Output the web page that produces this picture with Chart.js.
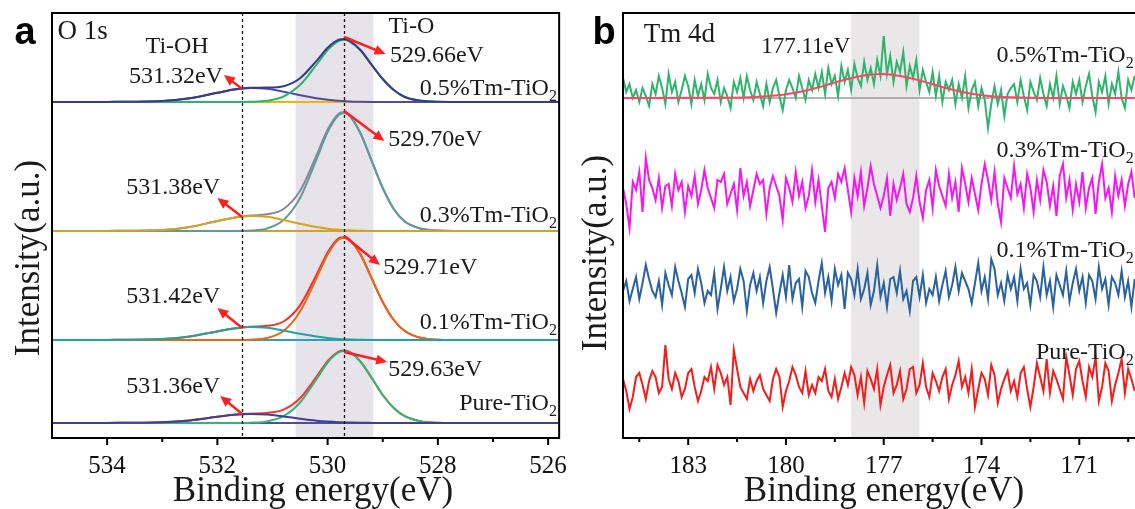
<!DOCTYPE html>
<html lang="en">
<head>
<meta charset="UTF-8">
<title>XPS O 1s and Tm 4d</title>
<script src="https://cdn.jsdelivr.net/npm/chart.js"></script>
<style>
  body { margin: 0; background: #fff; }
  .panel { position: absolute; top: 0; }
  .panel canvas { display: block; }
  #panelA { left: 0; }
  #panelB { left: 580px; }
</style>
</head>
<body>
<div class="panel" id="panelA"><canvas id="chartA" width="580" height="509"></canvas></div>
<div class="panel" id="panelB"><canvas id="chartB" width="555" height="509"></canvas></div>
<script>
// ---------- panel a : O 1s (heights, arbitrary units) ----------
const oBE = [535, 534, 533, 532.5, 532, 531.7, 531.4, 531.1, 530.8, 530.5, 530.2, 530.0, 529.8,
             529.7, 529.6, 529.4, 529.2, 529.0, 528.8, 528.6, 528.3, 528.0, 527.5, 527, 526, 525.8];
const oSamples = ['0.5%Tm-TiO2', '0.3%Tm-TiO2', '0.1%Tm-TiO2', 'Pure-TiO2'];
const oBase = [336, 207, 98, 15];

const tiO_05  = [0,0,0,0,0,0,0.2,1.2,5.5,17,37.5,52,61,62,60.5,51.5,37,23,12,5,1.2,0.2,0,0,0,0];
const tiOH_05 = [0,0.1,1,3.8,9.2,12.4,14,13.2,10.3,6.8,3.7,2.2,1.2,0.9,0.6,0.3,0.1,0,0,0,0,0,0,0,0,0];
const tiO_03  = [0,0,0,0,0,0,0.4,2.5,11,33,72,99,116,118,115,97,70,43,22,9.5,2.2,0.4,0,0,0,0];
const tiOH_03 = [0,0.1,1,4,10,13.3,15,14.2,11,7.2,3.9,2.3,1.3,0.9,0.7,0.3,0.1,0,0,0,0,0,0,0,0,0];
const tiO_01  = [0,0,0,0,0,0,0.3,2,9,28.5,62,85.5,100.5,102,100,85,61.5,38,20,9,2,0.3,0,0,0,0];
const tiOH_01 = [0,0.1,0.9,3.5,8.6,11.5,13,12.2,9.5,6.2,3.4,2,1.1,0.8,0.6,0.3,0.1,0,0,0,0,0,0,0,0,0];
const tiO_pu  = [0,0,0,0,0,0,0.3,1.6,6.8,20.5,44,60.5,70.5,72,70.8,61,45,28,15,6.8,1.6,0.3,0,0,0,0];
const tiOH_pu = [0,0.1,0.7,2.5,6.2,8.2,9,8.5,6.6,4.3,2.3,1.4,0.8,0.6,0.4,0.2,0.1,0,0,0,0,0,0,0,0,0];
const oTiO = [tiO_05, tiO_03, tiO_01, tiO_pu];
const oTiOH = [tiOH_05, tiOH_03, tiOH_01, tiOH_pu];

const oMajor = [534, 532, 530, 528, 526];
const oMinor = [533, 531, 529, 527];
const oDashed = [531.55, 529.70];
const oBand = [530.58, 529.17];

// ---------- panel b : Tm 4d ----------
const tmStart = 185.0, tmStep = 0.1;   // sampling grid of the spectra
const tmBase = [340, 246, 151, 55];
const tm05 = [20,6,14,0,8,-4,10,2,-8,14,4,22,10,-6,24,6,16,-4,8,22,
  12,-6,18,2,14,-2,24,10,4,18,-4,10,2,-10,16,6,20,0,22,8,
  -2,16,4,-8,14,-4,10,18,2,-12,8,18,10,0,22,10,-2,18,8,24,
  10,26,4,30,14,22,2,32,16,28,8,34,20,12,36,18,30,14,38,22,
  62,24,42,16,36,26,46,12,32,20,38,8,28,16,6,26,2,22,-4,16,
  8,18,-6,14,0,22,-10,8,16,-8,10,-2,-30,-6,12,-6,8,-18,4,10,
  14,-4,18,2,-12,16,6,-2,20,4,-8,14,0,22,-6,12,2,-10,16,4,
  18,-4,12,24,2,-14,16,6,22,-6,14,4,26,0,-10,18,8,22];
const tm03 = [4,-12,-36,10,2,20,-20,34,12,4,-8,14,-16,6,8,-14,18,2,10,-20,
  6,-4,16,-12,2,22,4,-6,-16,12,10,18,-12,-2,8,-18,24,-4,10,-14,
  2,18,8,12,-22,4,16,6,-4,-28,14,4,-10,20,-4,10,-16,-4,22,-10,
  12,-14,-40,4,10,-6,18,10,24,2,-20,14,-4,20,-14,4,26,8,-4,-16,
  -4,14,-24,8,-8,4,18,-12,-20,-6,16,-10,-26,2,12,-16,22,6,-4,-14,
  18,-6,10,-20,24,8,-10,14,-2,-18,8,28,12,-8,20,-12,-30,14,4,-6,
  26,-2,8,-16,18,4,-20,12,-8,22,10,-14,6,-24,16,28,-6,12,-18,8,
  -10,20,-16,4,14,-22,10,28,-6,4,-20,16,-4,12,-14,8,20,-6];
const tm01 = [-4,6,-14,-2,10,-12,4,22,8,-4,-10,6,-18,14,2,-8,20,6,-6,-20,
  8,12,-6,18,4,-16,-4,-8,14,-22,-2,20,-4,10,-14,-2,18,6,-24,2,
  14,-4,10,-16,6,20,-2,-26,-6,12,-10,22,-12,4,8,-20,16,10,-6,-16,
  6,24,-6,10,-14,18,2,12,-22,14,8,-8,18,-12,-2,14,-18,-4,22,-10,
  4,-20,8,10,-6,16,-12,-4,-24,6,10,-10,12,-16,-2,-8,10,-14,2,16,
  -10,2,20,-4,14,6,-2,-16,4,24,-4,10,-12,28,18,-8,4,-14,12,-2,
  10,-14,18,-2,4,-18,12,6,-10,20,-8,6,-20,12,2,-8,16,-14,4,18,
  -4,10,-16,12,6,-12,20,-2,8,-18,10,4,-8,16,-10,6,-20,8];
const tmPure = [4,-8,-26,-14,6,10,-2,-16,2,12,6,-10,-4,38,4,-6,10,2,-14,-6,
  10,14,-4,-18,-8,6,2,16,-6,18,10,-2,6,-22,33,14,-4,-10,-16,4,
  -8,2,8,-6,-12,-18,4,14,6,-24,-8,2,16,8,-4,-10,12,-12,-2,-10,
  6,2,14,-8,-14,4,-16,-4,10,-2,16,8,-12,6,-20,12,4,-6,14,-22,
  -4,8,18,-10,-2,12,-16,-6,14,16,-10,-2,20,-4,-14,10,2,-8,6,14,
  -16,-2,8,22,-4,6,-10,14,-24,-6,10,4,-12,18,8,-20,-6,4,12,-8,
  2,-14,10,16,-6,-24,-4,20,6,-8,24,-10,12,4,-6,-16,26,8,-12,14,
  22,2,-14,16,6,26,-18,-4,20,12,-18,-2,10,24,-10,14,4,-8];
const tmTraces = [tm05, tm03, tm01, tmPure];
const tmFitBE = [185, 182, 181.1, 180.6, 180.1, 179.6, 179.1, 178.6, 178.1, 177.6, 177.1,
                 176.6, 176.1, 175.6, 175.1, 174.6, 174.1, 173.6, 173.1, 172, 169.3];
const tmFit = [0, 0.2, 0.8, 1.7, 3.3, 6, 9.8, 14.5, 19, 22.5, 24, 22.6, 19.3, 14.7, 10, 6.1, 3.3, 1.6, 0.7, 0.1, 0];

const tmMajor = [183, 180, 177, 174, 171];
const tmMinor = [184.5, 181.5, 178.5, 175.5, 172.5, 169.5];
const tmBand = [178.0, 175.9];

// ---------- styles ----------
const SERIF = '"Liberation Serif", "Times New Roman", serif';
const oColor = [
  { base: '#f4b400', tiOH: '#4f4c9e', tiO: '#27b56f', env: '#3b3a8a' },
  { base: '#d9a21c', tiOH: '#d9a21c', tiO: '#5e9b9c', env: '#8d8498' },
  { base: '#2f9fb6', tiOH: '#1fa5a0', tiO: '#e06a16', env: '#ff2b2b' },
  { base: '#514ca0', tiOH: '#3f3f96', tiO: '#2cb877', env: '#ff3030' }
];
const oPaint = [
  ['base', 'tiOH', 'tiO', 'env'],
  ['base', 'env', 'tiO', 'tiOH'],
  ['base', 'env', 'tiO', 'tiOH'],
  ['base', 'env', 'tiO', 'tiOH']
];
const tmColor = ['#2fb46c', '#f516f0', '#2862a0', '#f51c1c'];

// [text, subscript, x (eV), y (a.u.), align, font size]
const oLabels = [
  ['O 1s', '', 534.9, 406, 'left', 27],
  ['Ti-OH', '', 532.73, 391, 'center', 24],
  ['531.32eV', '', 531.9, 361, 'right', 24],
  ['Ti-O', '', 528.48, 411, 'center', 24],
  ['529.66eV', '', 528.87, 382, 'left', 24],
  ['0.5%Tm-TiO', '2', 525.84, 349, 'right', 24],
  ['529.70eV', '', 528.9, 298, 'left', 24],
  ['531.38eV', '', 531.95, 250, 'right', 24],
  ['0.3%Tm-TiO', '2', 525.84, 222, 'right', 24],
  ['529.71eV', '', 528.99, 170, 'left', 24],
  ['531.42eV', '', 531.95, 141, 'right', 24],
  ['0.1%Tm-TiO', '2', 525.84, 115, 'right', 24],
  ['529.63eV', '', 528.9, 68, 'left', 24],
  ['531.36eV', '', 531.95, 51, 'right', 24],
  ['Pure-TiO', '2', 525.84, 34, 'right', 24]
];
// [from eV, from y, to eV, to y]
const oArrows = [
  [529.70, 401, 528.95, 384], [531.55, 349, 531.88, 363],
  [529.70, 327, 528.97, 297], [531.55, 221, 532.0, 240],
  [529.70, 202, 529.05, 173], [531.55, 110, 532.0, 130],
  [529.70, 86, 528.92, 76],   [531.55, 24, 531.95, 42]
];
const tmLabels = [
  ['Tm 4d', '', 184.36, 403, 'left', 27],
  ['177.11eV', '', 179.39, 391, 'center', 23],
  ['0.5%Tm-TiO', '2', 169.33, 382, 'right', 24],
  ['0.3%Tm-TiO', '2', 169.33, 287, 'right', 24],
  ['0.1%Tm-TiO', '2', 169.33, 187, 'right', 24],
  ['Pure-TiO', '2', 169.33, 85, 'right', 24]
];

// ---------- drawing helpers ----------
function drawLabel(ctx, x, y, t) {
  const [main, sub, , , align, size] = t;
  const subSize = Math.round(size * 0.68);
  ctx.font = size + 'px ' + SERIF;
  const wm = ctx.measureText(main).width;
  ctx.font = subSize + 'px ' + SERIF;
  const ws = sub ? ctx.measureText(sub).width : 0;
  const w = wm + ws;
  const x0 = align === 'left' ? x : align === 'right' ? x - w : x - w / 2;
  ctx.textAlign = 'left';
  ctx.textBaseline = 'middle';
  ctx.fillStyle = '#1a1a1a';
  ctx.font = size + 'px ' + SERIF;
  ctx.fillText(main, x0, y);
  if (sub) {
    ctx.font = subSize + 'px ' + SERIF;
    ctx.fillText(sub, x0 + wm, y + size * 0.32);
  }
}

function drawArrow(ctx, x0, y0, x1, y1) {
  const ang = Math.atan2(y1 - y0, x1 - x0), L = 11, W = 5;
  const c = Math.cos(ang), s = Math.sin(ang);
  ctx.strokeStyle = '#ff1f1f';
  ctx.fillStyle = '#ff1f1f';
  ctx.lineWidth = 2.5;
  ctx.beginPath();
  ctx.moveTo(x0, y0);
  ctx.lineTo(x1 - L * 0.8 * c, y1 - L * 0.8 * s);
  ctx.stroke();
  ctx.beginPath();
  ctx.moveTo(x1, y1);
  ctx.lineTo(x1 - L * c + W * s, y1 - L * s - W * c);
  ctx.lineTo(x1 - L * c - W * s, y1 - L * s + W * c);
  ctx.closePath();
  ctx.fill();
}

function decor(o) {
  return {
    id: 'decor',
    beforeDatasetsDraw(chart) {
      const { ctx, chartArea: a, scales: { x } } = chart;
      const x1 = x.getPixelForValue(o.band[0]), x2 = x.getPixelForValue(o.band[1]);
      ctx.save();
      ctx.fillStyle = o.bandColor;
      ctx.fillRect(Math.min(x1, x2), a.top, Math.abs(x2 - x1), a.bottom - a.top);
      ctx.restore();
    },
    afterDatasetsDraw(chart) {
      const { ctx, chartArea: a, scales: { x, y } } = chart;
      ctx.save();
      // dashed reference lines
      ctx.strokeStyle = '#111';
      ctx.lineWidth = 1.3;
      ctx.setLineDash([3, 3]);
      (o.dashed || []).forEach(v => {
        const px = Math.round(x.getPixelForValue(v)) + 0.5;
        ctx.beginPath(); ctx.moveTo(px, a.top); ctx.lineTo(px, a.bottom); ctx.stroke();
      });
      ctx.setLineDash([]);
      // frame (panel b runs off the right edge)
      ctx.lineWidth = 2;
      ctx.strokeStyle = '#000';
      ctx.beginPath();
      if (o.rightEdge) {
        ctx.moveTo(a.right, a.top); ctx.lineTo(a.right, a.bottom);
      }
      ctx.moveTo(a.right + 1, a.top); ctx.lineTo(a.left, a.top); ctx.lineTo(a.left, a.bottom); ctx.lineTo(a.right + 1, a.bottom);
      ctx.stroke();
      // tick marks
      o.major.forEach(v => {
        const px = x.getPixelForValue(v);
        ctx.beginPath(); ctx.moveTo(px, a.bottom); ctx.lineTo(px, a.bottom + 7); ctx.stroke();
      });
      o.minor.forEach(v => {
        const px = x.getPixelForValue(v);
        ctx.beginPath(); ctx.moveTo(px, a.bottom); ctx.lineTo(px, a.bottom + 4); ctx.stroke();
      });
      // arrows and labels
      (o.arrows || []).forEach(r => drawArrow(ctx,
        x.getPixelForValue(r[0]), y.getPixelForValue(r[1]),
        x.getPixelForValue(r[2]), y.getPixelForValue(r[3])));
      o.labels.forEach(t => drawLabel(ctx, x.getPixelForValue(t[2]), y.getPixelForValue(t[3]), t));
      // panel letter
      ctx.fillStyle = '#000';
      ctx.font = 'bold 38px "Liberation Sans", Arial, sans-serif';
      ctx.textAlign = 'center';
      ctx.textBaseline = 'middle';
      ctx.fillText(o.letter, o.letterPos[0], o.letterPos[1]);
      // axis titles
      ctx.fillStyle = '#1a1a1a';
      ctx.font = '35px ' + SERIF;
      ctx.fillText('Binding energy(eV)', o.xTitle[0], o.xTitle[1]);
      ctx.translate(o.yTitle[0], o.yTitle[1]);
      ctx.rotate(-Math.PI / 2);
      ctx.fillText('Intensity(a.u.)', 0, 0);
      ctx.restore();
    }
  };
}

function xAxis(min, max, majors) {
  return {
    type: 'linear', reverse: true, min: min, max: max,
    afterBuildTicks: s => { s.ticks = majors.map(v => ({ value: v })); },
    afterFit: s => { s.height = 71; },
    grid: { display: false, drawTicks: false },
    border: { display: false },
    ticks: { font: { family: SERIF, size: 25 }, color: '#111', padding: 13, maxRotation: 0, autoSkip: false }
  };
}

function baseOptions(min, max, majors, pad) {
  return {
    responsive: false,
    devicePixelRatio: 1,
    animation: false,
    layout: { padding: pad, autoPadding: false },
    plugins: { legend: { display: false }, tooltip: { enabled: false } },
    elements: { point: { radius: 0 } },
    scales: {
      x: xAxis(min, max, majors),
      y: { display: false, min: 0, max: 425 }
    }
  };
}

// ---------- panel a datasets ----------
const layersA = [];
oSamples.forEach((name, i) => {
  const b = oBase[i];
  const series = {
    base: [{ x: oBE[0], y: b }, { x: oBE[oBE.length - 1], y: b }],
    tiOH: oBE.map((e, k) => ({ x: e, y: b + oTiOH[i][k] })),
    tiO: oBE.map((e, k) => ({ x: e, y: b + oTiO[i][k] })),
    env: oBE.map((e, k) => ({ x: e, y: b + oTiO[i][k] + oTiOH[i][k] }))
  };
  oPaint[i].forEach(key => layersA.push({
    label: name + ' ' + key,
    data: series[key],
    borderColor: oColor[i][key],
    borderWidth: 2,
    cubicInterpolationMode: 'monotone',
    fill: false
  }));
});

new Chart(document.getElementById('chartA'), {
  type: 'line',
  data: { datasets: layersA.reverse() },   // first dataset is painted last
  options: baseOptions(525.8, 535, oMajor, { left: 52, top: 13, right: 6, bottom: 0 }),
  plugins: [decor({
    band: oBand, bandColor: '#e6e3ea', dashed: oDashed, major: oMajor, minor: oMinor,
    labels: oLabels, arrows: oArrows, letter: 'a', letterPos: [25, 34], rightEdge: true,
    xTitle: [313, 492], yTitle: [30, 258]
  })]
});

// ---------- panel b datasets ----------
const tmBE = tmPure.map((_, i) => +(tmStart - i * tmStep).toFixed(1));
const tmNames = ['0.5%Tm-TiO2', '0.3%Tm-TiO2', '0.1%Tm-TiO2', 'Pure-TiO2'];
const layersB = [
  { label: 'background', data: [{ x: 185, y: tmBase[0] }, { x: 169.3, y: tmBase[0] }], borderColor: '#9b9b9b', borderWidth: 1.5 }
];
tmTraces.forEach((tr, i) => {
  layersB.push({
    label: tmNames[i],
    data: tr.map((v, k) => ({ x: tmBE[k], y: tmBase[i] + v })),
    borderColor: tmColor[i], borderWidth: 2, tension: 0
  });
  if (i === 0) {
    layersB.push({
      label: 'Tm 4d fit',
      data: tmFitBE.map((e, k) => ({ x: e, y: tmBase[0] + tmFit[k] })),
      borderColor: '#ff4466', borderWidth: 2, cubicInterpolationMode: 'monotone'
    });
  }
});

new Chart(document.getElementById('chartB'), {
  type: 'line',
  data: { datasets: layersB.reverse() },
  options: baseOptions(169.29, 185, tmMajor, { left: 43, top: 13, right: 0, bottom: 0 }),
  plugins: [decor({
    band: tmBand, bandColor: '#e9e7e8', major: tmMajor, minor: tmMinor,
    labels: tmLabels, letter: 'b', letterPos: [24, 34], rightEdge: false,
    xTitle: [304, 492], yTitle: [17, 253]
  })]
});
</script>
</body>
</html>
